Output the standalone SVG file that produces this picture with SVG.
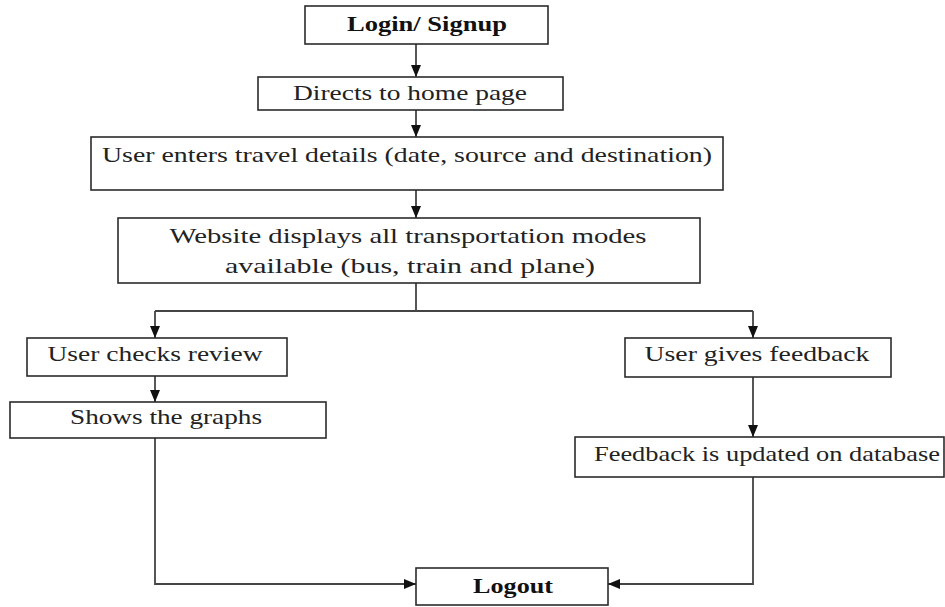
<svg xmlns="http://www.w3.org/2000/svg" width="945" height="607" viewBox="0 0 945 607">
<style>
.box{fill:#fff;stroke:#2b2b2b;stroke-width:1.6}
.t{font-family:"Liberation Serif","Times New Roman",serif;font-size:21px;fill:#222;text-anchor:middle}
.b{font-weight:bold;fill:#111}
.c{fill:none;stroke:#444;stroke-width:1.8}
</style>
<defs>
<marker id="ah" markerUnits="userSpaceOnUse" markerWidth="12" markerHeight="12" viewBox="0 0 12 12" refX="12" refY="6" orient="auto">
<path d="M0,1 L12,6 L0,11 Z" fill="#111"/>
</marker>
</defs>
<rect width="945" height="607" fill="#fff"/>
<g id="connectors">
<path class="c" d="M416,44 V77" marker-end="url(#ah)"/>
<path class="c" d="M416,110 V137" marker-end="url(#ah)"/>
<path class="c" d="M416,190 V218" marker-end="url(#ah)"/>
<path class="c" d="M416,283 V311"/>
<path class="c" d="M155,311 H753"/>
<path class="c" d="M155,311 V338" marker-end="url(#ah)"/>
<path class="c" d="M753,311 V338" marker-end="url(#ah)"/>
<path class="c" d="M155,376 V402" marker-end="url(#ah)"/>
<path class="c" d="M753,377 V437" marker-end="url(#ah)"/>
<path class="c" d="M155,438 V584 H416" marker-end="url(#ah)"/>
<path class="c" d="M753,477 V584 H608" marker-end="url(#ah)"/>
</g>
<g id="login">
<rect class="box" x="305" y="6" width="243" height="38"/>
<text class="t b" x="427" y="31" textLength="160" lengthAdjust="spacingAndGlyphs">Login/ Signup</text>
</g>
<g id="home">
<rect class="box" x="258" y="77" width="305" height="33"/>
<text class="t" x="410" y="100" textLength="234" lengthAdjust="spacingAndGlyphs">Directs to home page</text>
</g>
<g id="travel">
<rect class="box" x="91" y="137" width="632" height="53"/>
<text class="t" x="407" y="162" textLength="610" lengthAdjust="spacingAndGlyphs">User enters travel details (date, source and destination)</text>
</g>
<g id="modes">
<rect class="box" x="118" y="218" width="582" height="65"/>
<text class="t" x="408" y="243" textLength="477" lengthAdjust="spacingAndGlyphs">Website displays all transportation modes</text>
<text class="t" x="410" y="273" textLength="370" lengthAdjust="spacingAndGlyphs">available (bus, train and plane)</text>
</g>
<g id="review">
<rect class="box" x="27" y="338" width="260" height="38"/>
<text class="t" x="155" y="361" textLength="215" lengthAdjust="spacingAndGlyphs">User checks review</text>
</g>
<g id="graphs">
<rect class="box" x="10" y="402" width="316" height="36"/>
<text class="t" x="166" y="424" textLength="192" lengthAdjust="spacingAndGlyphs">Shows the graphs</text>
</g>
<g id="feedback">
<rect class="box" x="625" y="338" width="266" height="39"/>
<text class="t" x="757" y="361" textLength="225" lengthAdjust="spacingAndGlyphs">User gives feedback</text>
</g>
<g id="database">
<rect class="box" x="575" y="437" width="369" height="40"/>
<text class="t" x="767" y="461" textLength="346" lengthAdjust="spacingAndGlyphs">Feedback is updated on database</text>
</g>
<g id="logout">
<rect class="box" x="416" y="568" width="192" height="37"/>
<text class="t b" x="513" y="593" textLength="80" lengthAdjust="spacingAndGlyphs">Logout</text>
</g>
</svg>
